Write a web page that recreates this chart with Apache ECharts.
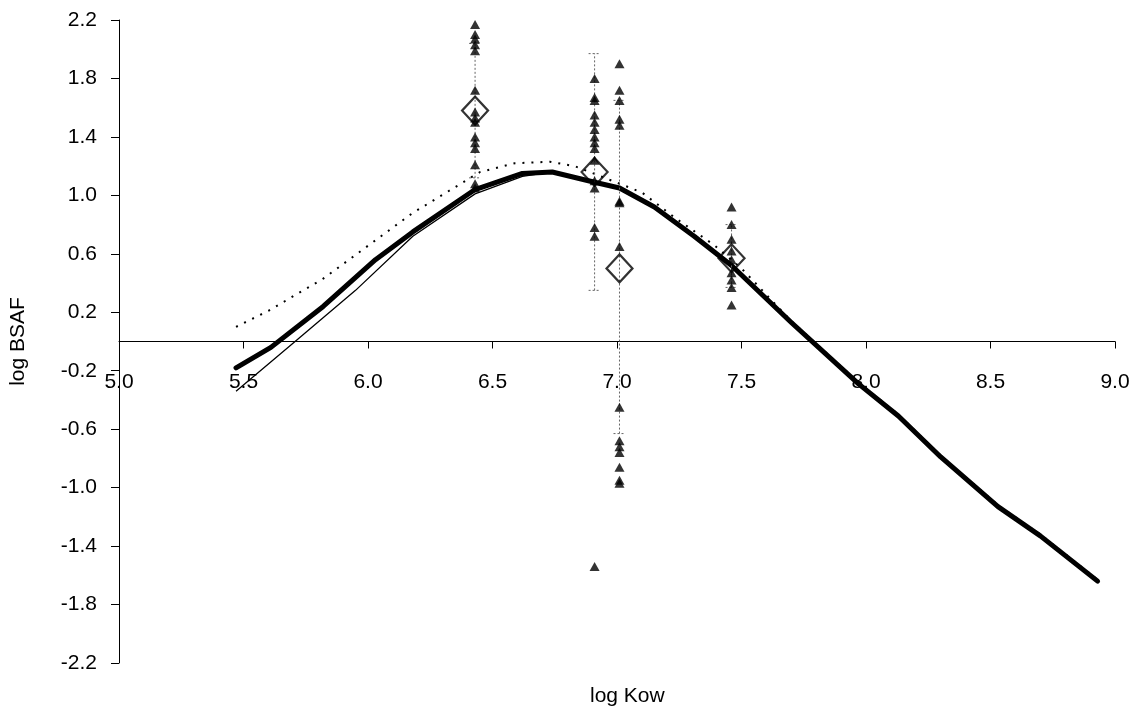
<!DOCTYPE html>
<html>
<head>
<meta charset="utf-8">
<script src="https://cdn.jsdelivr.net/npm/echarts@6/dist/echarts.min.js"></script>
<style>
html,body{margin:0;padding:0;background:#fff;}
#chart{width:1147px;height:715px;}
</style>
</head>
<body>
<div id="chart"></div>
<script>
// ---- data ----
const xAxisTitle = 'log Kow';
const yAxisTitle = 'log BSAF';

// individual measurements (triangles)
const g1X = 6.43;
const g1Y = [2.17, 2.10, 2.07, 2.03, 1.99, 1.72, 1.57, 1.53, 1.50, 1.40, 1.36, 1.32, 1.21, 1.08, 1.05];
const g2X = 6.91;
const g2Y = [1.80, 1.67, 1.65, 1.55, 1.50, 1.45, 1.40, 1.36, 1.32, 1.24, 1.10, 1.05, 0.78, 0.72, -1.54];
const g3X = 7.01;
const g3Y = [1.90, 1.72, 1.65, 1.52, 1.48, 0.96, 0.95, 0.65, -0.45, -0.68, -0.72, -0.76, -0.86, -0.95, -0.97];
const g4X = 7.46;
const g4Y = [0.92, 0.80, 0.70, 0.62, 0.56, 0.47, 0.42, 0.37, 0.25];

// group means (diamonds) and error bars
const meanX = [6.43, 6.91, 7.01, 7.46];
const meanY = [1.58, 1.16, 0.50, 0.57];
const errLow = [1.12, 0.35, -0.63, 0.37];
const errHigh = [2.04, 1.97, 1.65, 0.80];

// model curves
const thickX = [5.47, 5.61, 5.82, 6.03, 6.18, 6.43, 6.62, 6.74, 6.91, 7.01, 7.15, 7.31, 7.46, 7.70, 7.97, 8.13, 8.30, 8.53, 8.70, 8.93];
const thickY = [-0.18, -0.04, 0.24, 0.56, 0.75, 1.04, 1.15, 1.16, 1.09, 1.05, 0.92, 0.72, 0.52, 0.13, -0.29, -0.51, -0.79, -1.13, -1.33, -1.64];
const thinX = [5.47, 5.70, 5.95, 6.18, 6.43, 6.62, 6.74, 6.91, 7.01, 7.15, 7.31, 7.46, 7.70, 7.97, 8.13, 8.30, 8.53, 8.70, 8.93];
const thinY = [-0.34, -0.01, 0.35, 0.72, 1.01, 1.13, 1.16, 1.09, 1.05, 0.92, 0.72, 0.52, 0.13, -0.29, -0.51, -0.79, -1.13, -1.33, -1.64];
const dotX = [5.47, 5.60, 5.82, 6.18, 6.45, 6.59, 6.73, 6.83, 7.10, 7.23, 7.39, 7.50, 7.70, 7.97, 8.13, 8.30, 8.53, 8.70, 8.93];
const dotY = [0.10, 0.21, 0.43, 0.88, 1.16, 1.22, 1.23, 1.20, 1.02, 0.85, 0.66, 0.50, 0.14, -0.28, -0.50, -0.78, -1.12, -1.32, -1.63];

// axis ticks
const xMin = 5.0, xMax = 9.0, xStep = 0.5;
const yMin = -2.2, yMax = 2.2, yStep = 0.4;

// ---- build ----
const pair = (xs, ys) => xs.map((x, i) => [x, ys[i]]);
const col = (x, ys) => ys.map(y => [x, y]);
const triData = [].concat(col(g1X, g1Y), col(g2X, g2Y), col(g3X, g3Y), col(g4X, g4Y));
const errData = meanX.map((x, i) => [x, errLow[i], errHigh[i]]);

const FONT = 'Liberation Sans, Arial, sans-serif';
const FS = 21;
const GRID_TOP = 20, GRID_BOTTOM = 52, H = 715;
const plotH = H - GRID_TOP - GRID_BOTTOM;
// shift the x axis up so that it crosses the y axis at 0
const zeroShift = -plotH * (0 - yMin) / (yMax - yMin);

const chart = echarts.init(document.getElementById('chart'), null, {renderer: 'canvas'});

chart.setOption({
  animation: false,
  backgroundColor: '#ffffff',
  grid: {left: 115, right: 32, top: GRID_TOP, bottom: GRID_BOTTOM, containLabel: false},
  xAxis: {
    type: 'value', min: xMin, max: xMax, interval: xStep,
    position: 'bottom', offset: zeroShift,
    axisLine: {onZero: false, lineStyle: {color: '#000', width: 1}},
    axisTick: {show: true, inside: false, length: 7, lineStyle: {color: '#000'}},
    axisLabel: {margin: 30, color: '#000', fontSize: FS, fontFamily: FONT,
      formatter: v => v.toFixed(1)},
    splitLine: {show: false}
  },
  yAxis: {
    type: 'value', min: yMin, max: yMax, interval: yStep,
    name: yAxisTitle, nameLocation: 'middle', nameGap: 90, nameRotate: 90,
    nameTextStyle: {color: '#000', fontSize: FS, fontFamily: FONT},
    axisLine: {show: true, onZero: false, lineStyle: {color: '#000', width: 1}},
    axisTick: {show: true, inside: false, length: 8, lineStyle: {color: '#000'}},
    axisLabel: {margin: 22, color: '#000', fontSize: FS, fontFamily: FONT,
      formatter: v => v.toFixed(1)},
    splitLine: {show: false}
  },
  graphic: [{
    type: 'text', left: 590, top: 686,
    style: {text: xAxisTitle, fill: '#000', font: FS + 'px ' + FONT}
  }],
  series: [
    {
      name: 'thin', type: 'line', data: pair(thinX, thinY), showSymbol: false, z: 2,
      lineStyle: {color: '#000', width: 1.3}
    },
    {
      name: 'dotted', type: 'line', data: pair(dotX, dotY), showSymbol: false, z: 2,
      lineStyle: {color: '#000', width: 2, type: [2, 7]}
    },
    {
      name: 'thick', type: 'line', data: pair(thickX, thickY), showSymbol: false, z: 3,
      lineStyle: {color: '#000', width: 5, join: 'round', cap: 'round'}
    },
    {
      name: 'errorbars', type: 'custom', data: errData, z: 4,
      renderItem: function (params, api) {
        const x = api.value(0);
        const lo = api.coord([x, api.value(1)]);
        const hi = api.coord([x, api.value(2)]);
        const st = {stroke: '#666', lineWidth: 1, lineDash: [2, 2]};
        const cw = 6;
        return {
          type: 'group',
          children: [
            {type: 'line', shape: {x1: lo[0], y1: lo[1], x2: hi[0], y2: hi[1]}, style: st},
            {type: 'line', shape: {x1: lo[0] - cw, y1: lo[1], x2: lo[0] + cw, y2: lo[1]}, style: st},
            {type: 'line', shape: {x1: hi[0] - cw, y1: hi[1], x2: hi[0] + cw, y2: hi[1]}, style: st}
          ]
        };
      }
    },
    {
      name: 'means', type: 'scatter', data: pair(meanX, meanY), z: 5,
      symbol: 'diamond', symbolSize: [26, 28],
      itemStyle: {color: 'rgba(0,0,0,0)', borderColor: '#000', borderWidth: 2.2}
    },
    {
      name: 'measured', type: 'scatter', data: triData, z: 6,
      symbol: 'triangle', symbolSize: [10, 9],
      itemStyle: {color: '#000'}
    }
  ]
});
</script>
</body>
</html>
